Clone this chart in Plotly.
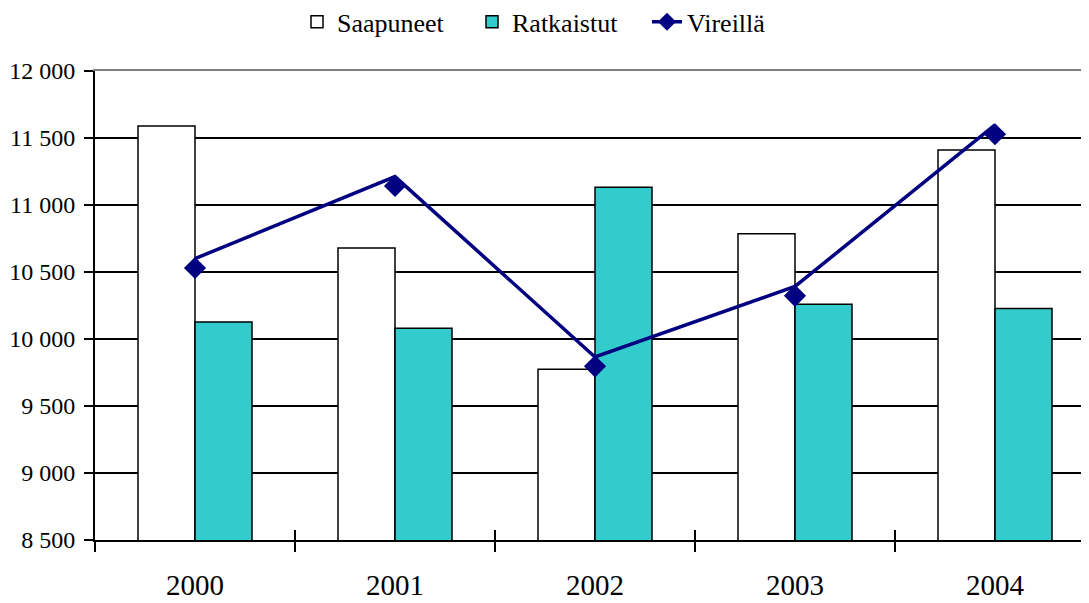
import plotly.graph_objects as go

years = ["2000", "2001", "2002", "2003", "2004"]
saapuneet = [11590, 10680, 9775, 10785, 11410]
ratkaistut = [10127, 10080, 11133, 10260, 10228]
vireilla = [10530, 11142, 9796, 10322, 11528]

y_ticks = [8500, 9000, 9500, 10000, 10500, 11000, 11500, 12000]
y_range = [8500, 12000]
line_shift = 70  # rendering offset of the line above its markers in the original
x_range = [-0.5, 4.5]

FONT = "Liberation Serif, serif"
NAVY = "#000080"
TEAL = "#33CCCC"

fig = go.Figure()
fig.add_trace(go.Bar(x=years, y=saapuneet, name="Saapuneet",
                     marker=dict(color="white", line=dict(color="black", width=1.5)),
                     xaxis="x", yaxis="y"))
fig.add_trace(go.Bar(x=years, y=ratkaistut, name="Ratkaistut",
                     marker=dict(color=TEAL, line=dict(color="black", width=1.5)),
                     xaxis="x", yaxis="y"))
# line (drawn slightly above markers, as in the original)
fig.add_trace(go.Scatter(x=years, y=vireilla, mode="lines", showlegend=False,
                         line=dict(color=NAVY, width=3.5), xaxis="x2", yaxis="y2"))
fig.add_trace(go.Scatter(x=years, y=vireilla, mode="markers", showlegend=False,
                         marker=dict(symbol="diamond", size=17, color=NAVY),
                         xaxis="x3", yaxis="y"))
# legend entry
fig.add_trace(go.Scatter(x=[None], y=[None], mode="lines+markers", name="Vireillä",
                         line=dict(color=NAVY, width=3.5),
                         marker=dict(symbol="diamond", size=14, color=NAVY),
                         xaxis="x", yaxis="y"))

fig.update_layout(
    width=1089, height=603,
    margin=dict(l=87, r=2, t=63, b=71, autoexpand=False),
    paper_bgcolor="white", plot_bgcolor="white",
    font=dict(family=FONT, color="black", size=24),
    separators=", ",
    barmode="group", bargap=0.43, bargroupgap=0,
    showlegend=True,
    legend=dict(orientation="h", x=0.202, xanchor="left", y=0.977, yanchor="middle",
                yref="container", font=dict(family=FONT, size=26), traceorder="normal",
                entrywidth=130, entrywidthmode="pixels",
                bgcolor="rgba(0,0,0,0)"),
    xaxis=dict(type="category", range=x_range, tickson="boundaries",
               ticks="outside", ticklen=10, tickwidth=2, tickcolor="black",
               showline=True, linecolor="black", linewidth=2, automargin=False,
               showgrid=False, tickfont=dict(family=FONT, size=29), ticklabelstandoff=18),
    xaxis2=dict(type="category", range=x_range, overlaying="x", side="top",
                showline=True, linecolor="#808080", linewidth=2, automargin=False,
                showgrid=False, showticklabels=False, ticks=""),
    xaxis3=dict(type="category", range=x_range, overlaying="x", side="bottom",
                tickson="boundaries", ticks="inside", ticklen=10, tickwidth=2, automargin=False,
                tickcolor="black", showline=False, showgrid=False, showticklabels=False),
    yaxis=dict(range=y_range, tickvals=y_ticks, tickformat=",d", automargin=False,
               showgrid=True, gridcolor="black", gridwidth=1.5,
               showline=True, linecolor="black", linewidth=2,
               ticks="outside", ticklen=9, tickwidth=2, tickcolor="black",
               ticklabelstandoff=4,
               tickfont=dict(family=FONT, size=24), zeroline=False),
    yaxis2=dict(range=[y_range[0] - line_shift, y_range[1] - line_shift], automargin=False,
                overlaying="y", showgrid=False, showticklabels=False,
                showline=False, ticks="", zeroline=False),
)

fig.write_html("out.html")
